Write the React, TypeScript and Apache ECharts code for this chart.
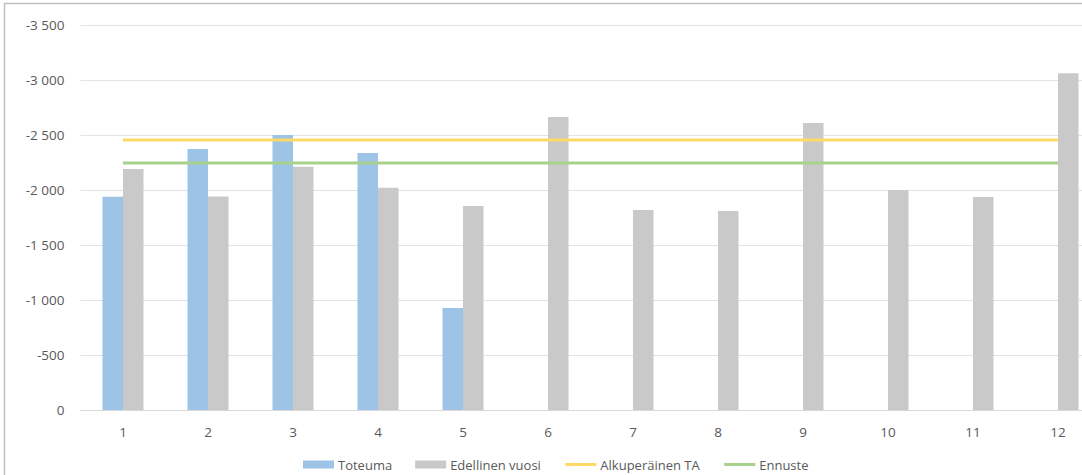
import React, { useEffect, useRef } from "react";
import * as echarts from "echarts";

const categories = ["1", "2", "3", "4", "5", "6", "7", "8", "9", "10", "11", "12"];
const toteuma = [-1939, -2373, -2500, -2336, -927, null, null, null, null, null, null, null];
const edellinenVuosi = [-2191, -1940, -2212, -2020, -1855, -2664, -1818, -1809, -2609, -2000, -1936, -3061];
const alkuperainenTA = Array(12).fill(-2455);
const ennuste = Array(12).fill(-2245);

const fmt = (v: number) => {
  const s = Math.abs(v).toString().replace(/\B(?=(\d{3})+(?!\d))/g, " ");
  return (v < 0 ? "-" : "") + s;
};

export default function App() {
  const ref = useRef<HTMLDivElement>(null);
  useEffect(() => {
    const chart = echarts.init(ref.current!, null, { renderer: "svg" });
    const font = "'Open Sans', 'Noto Sans', sans-serif";
    chart.setOption({
      animation: false,
      textStyle: { fontFamily: font },
      graphic: [
        {
          type: "rect",
          shape: { x: 4.5, y: 3.5, width: 1200, height: 600 },
          style: { fill: "none", stroke: "#bfbfbf", lineWidth: 1.5 },
          silent: true,
        },
      ],
      grid: { left: 80.5, width: 1020, top: 25, height: 385, containLabel: false, outerBoundsMode: "none" },
      legend: {
        top: 458,
        left: 303,
        padding: 0,
        itemWidth: 31,
        itemHeight: 8,
        itemGap: 23,
        textStyle: { color: "#595959", fontSize: 13, fontFamily: font, padding: [0, 0, 0, -1] },
        data: [
          { name: "Toteuma", icon: "rect" },
          { name: "Edellinen vuosi", icon: "rect" },
          { name: "Alkuperäinen TA", itemStyle: { opacity: 0 }, lineStyle: { width: 3 } },
          { name: "Ennuste", itemStyle: { opacity: 0 }, lineStyle: { width: 3 } },
        ],
      },
      xAxis: {
        type: "category",
        data: categories,
        axisLine: { show: true, lineStyle: { color: "#d9d9d9" } },
        axisTick: { show: false },
        axisLabel: { color: "#595959", fontSize: 13.5, margin: 15 },
      },
      yAxis: {
        type: "value",
        inverse: true,
        min: -3500,
        max: 0,
        interval: 500,
        axisLine: { show: false },
        axisTick: { show: false },
        splitLine: { lineStyle: { color: "#e3e3e3" } },
        axisLabel: { color: "#595959", fontSize: 13.5, margin: 16, formatter: (v: number) => fmt(v) },
      },
      series: [
        {
          name: "Toteuma",
          type: "bar",
          data: toteuma,
          barWidth: 20.5,
          barGap: "0%",
          itemStyle: { color: "#9DC3E6" },
        },
        {
          name: "Edellinen vuosi",
          type: "bar",
          data: edellinenVuosi,
          barWidth: 20.5,
          barGap: "0%",
          itemStyle: { color: "#C9C9C9" },
        },
        {
          name: "Alkuperäinen TA",
          type: "line",
          data: alkuperainenTA,
          symbol: "none",
          lineStyle: { color: "#FFD966", width: 3 },
          itemStyle: { color: "#FFD966" },
        },
        {
          name: "Ennuste",
          type: "line",
          data: ennuste,
          symbol: "none",
          lineStyle: { color: "#A9D18E", width: 3 },
          itemStyle: { color: "#A9D18E" },
        },
      ],
    });
    return () => chart.dispose();
  }, []);
  return (
    <div
      ref={ref}
      style={{ position: "fixed", left: 0, top: 0, width: 1082, height: 475, background: "#fff" }}
    />
  );
}
